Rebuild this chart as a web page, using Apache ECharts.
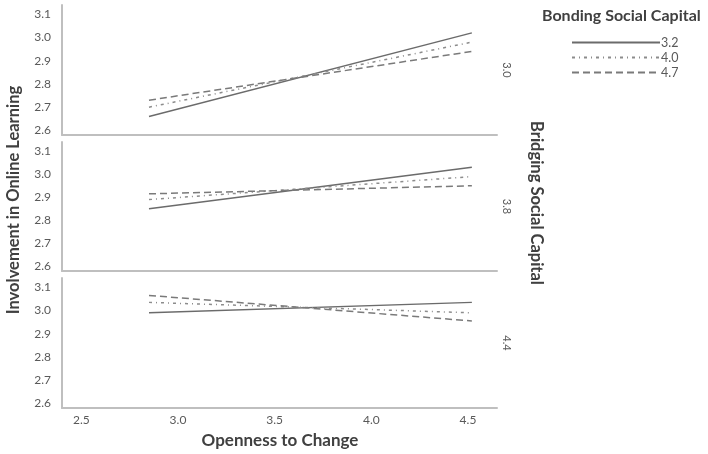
<!DOCTYPE html>
<html>
<head>
<meta charset="utf-8">
<script src="https://cdn.jsdelivr.net/npm/echarts@6/dist/echarts.min.js"></script>
<style>
  html, body { margin: 0; padding: 0; background: #fff; }
  #chart { width: 708px; height: 454px; }
</style>
</head>
<body>
<div id="chart"></div>
<script>
// x positions of the simple slopes (Openness to Change)
var xPoints = [2.85, 4.52];
// bonding social capital levels (legend)
var bondingLevels = ["3.2", "4.0", "4.7"];
// bridging social capital levels (panels)
var bridgingLevels = ["3.0", "3.8", "4.4"];

// predicted Involvement values, one array per panel, [start, end] per bonding level
var panel30 = [[2.66, 3.02], [2.70, 2.98], [2.73, 2.94]];
var panel38 = [[2.85, 3.03], [2.89, 2.99], [2.915, 2.95]];
var panel44 = [[2.99, 3.035], [3.035, 2.99], [3.065, 2.955]];
var panels = [panel30, panel38, panel44];

var lineStyles = [
  { color: "#6b6b6b", width: 1.5, type: "solid" },
  { color: "#8c8c8c", width: 1.5, type: [3, 4, 1, 4] },
  { color: "#7a7a7a", width: 1.5, type: [7, 4] }
];

var grids = [
  { left: 62, right: 211, top: 5, height: 130 },
  { left: 62, right: 211, top: 142, height: 129 },
  { left: 62, right: 211, top: 278, height: 130 }
];

var font = "Lato, 'Open Sans', sans-serif";
var tickFmt = function (v) {
  return Math.abs(v * 10 - Math.round(v * 10)) < 1e-6 ? v.toFixed(1) : "";
};

var xAxes = [], yAxes = [], series = [], graphics = [];
grids.forEach(function (g, i) {
  xAxes.push({
    type: "value",
    gridIndex: i,
    min: 2.4,
    max: 4.65,
    interval: 0.05,
    axisLine: { show: true, lineStyle: { color: "#bfbfbf", width: 2 } },
    axisTick: { show: false },
    splitLine: { show: false },
    axisLabel: {
      show: i === 2,
      color: "#595959",
      fontSize: 12,
      fontFamily: font,
      margin: 6,
      formatter: function (v) {
        return Math.abs(v * 2 - Math.round(v * 2)) < 1e-6 ? v.toFixed(1) : "";
      }
    }
  });
  yAxes.push({
    type: "value",
    gridIndex: i,
    min: 2.58,
    max: 3.14,
    interval: 0.02,
    axisLine: { show: true, lineStyle: { color: "#bfbfbf", width: 2 } },
    axisTick: { show: false },
    splitLine: { show: false },
    axisLabel: { color: "#595959", fontSize: 12, fontFamily: font, margin: 11, formatter: tickFmt }
  });
  panels[i].forEach(function (vals, j) {
    series.push({
      name: bondingLevels[j],
      type: "line",
      xAxisIndex: i,
      yAxisIndex: i,
      data: [[xPoints[0], vals[0]], [xPoints[1], vals[1]]],
      symbol: "none",
      lineStyle: lineStyles[j],
      itemStyle: { color: lineStyles[j].color },
      animation: false
    });
  });
  graphics.push({
    type: "text",
    x: 507,
    y: g.top + g.height / 2,
    rotation: -Math.PI / 2,
    style: {
      text: bridgingLevels[i],
      fill: "#595959",
      font: "11px " + font,
      textAlign: "center",
      textVerticalAlign: "middle"
    }
  });
});

graphics.push({
  type: "text",
  x: 536,
  y: 203,
  rotation: -Math.PI / 2,
  style: {
    text: "Bridging Social Capital",
    fill: "#404040",
    font: "bold 16.5px " + font,
    textAlign: "center",
    textVerticalAlign: "middle"
  }
});
graphics.push({
  type: "text",
  x: 14,
  y: 200,
  rotation: Math.PI / 2,
  style: {
    text: "Involvement in Online Learning",
    fill: "#404040",
    font: "bold 16.5px " + font,
    textAlign: "center",
    textVerticalAlign: "middle"
  }
});
graphics.push({
  type: "text",
  x: 280,
  y: 441,
  style: {
    text: "Openness to Change",
    fill: "#404040",
    font: "bold 17px " + font,
    textAlign: "center",
    textVerticalAlign: "middle"
  }
});
graphics.push({
  type: "text",
  x: 542,
  y: 16,
  style: {
    text: "Bonding Social Capital",
    fill: "#404040",
    font: "bold 16px " + font,
    textAlign: "left",
    textVerticalAlign: "middle"
  }
});

var chart = echarts.init(document.getElementById("chart"));
chart.setOption({
  animation: false,
  grid: grids,
  xAxis: xAxes,
  yAxis: yAxes,
  legend: {
    data: bondingLevels,
    orient: "vertical",
    left: 566,
    top: 31,
    itemWidth: 88,
    itemHeight: 10,
    itemGap: 2,
    selectedMode: false,
    itemStyle: { opacity: 0 },
    textStyle: { color: "#595959", fontSize: 12.5, fontFamily: font, padding: [0, 0, 0, -4] }
  },
  graphic: graphics,
  series: series
});
</script>
</body>
</html>
